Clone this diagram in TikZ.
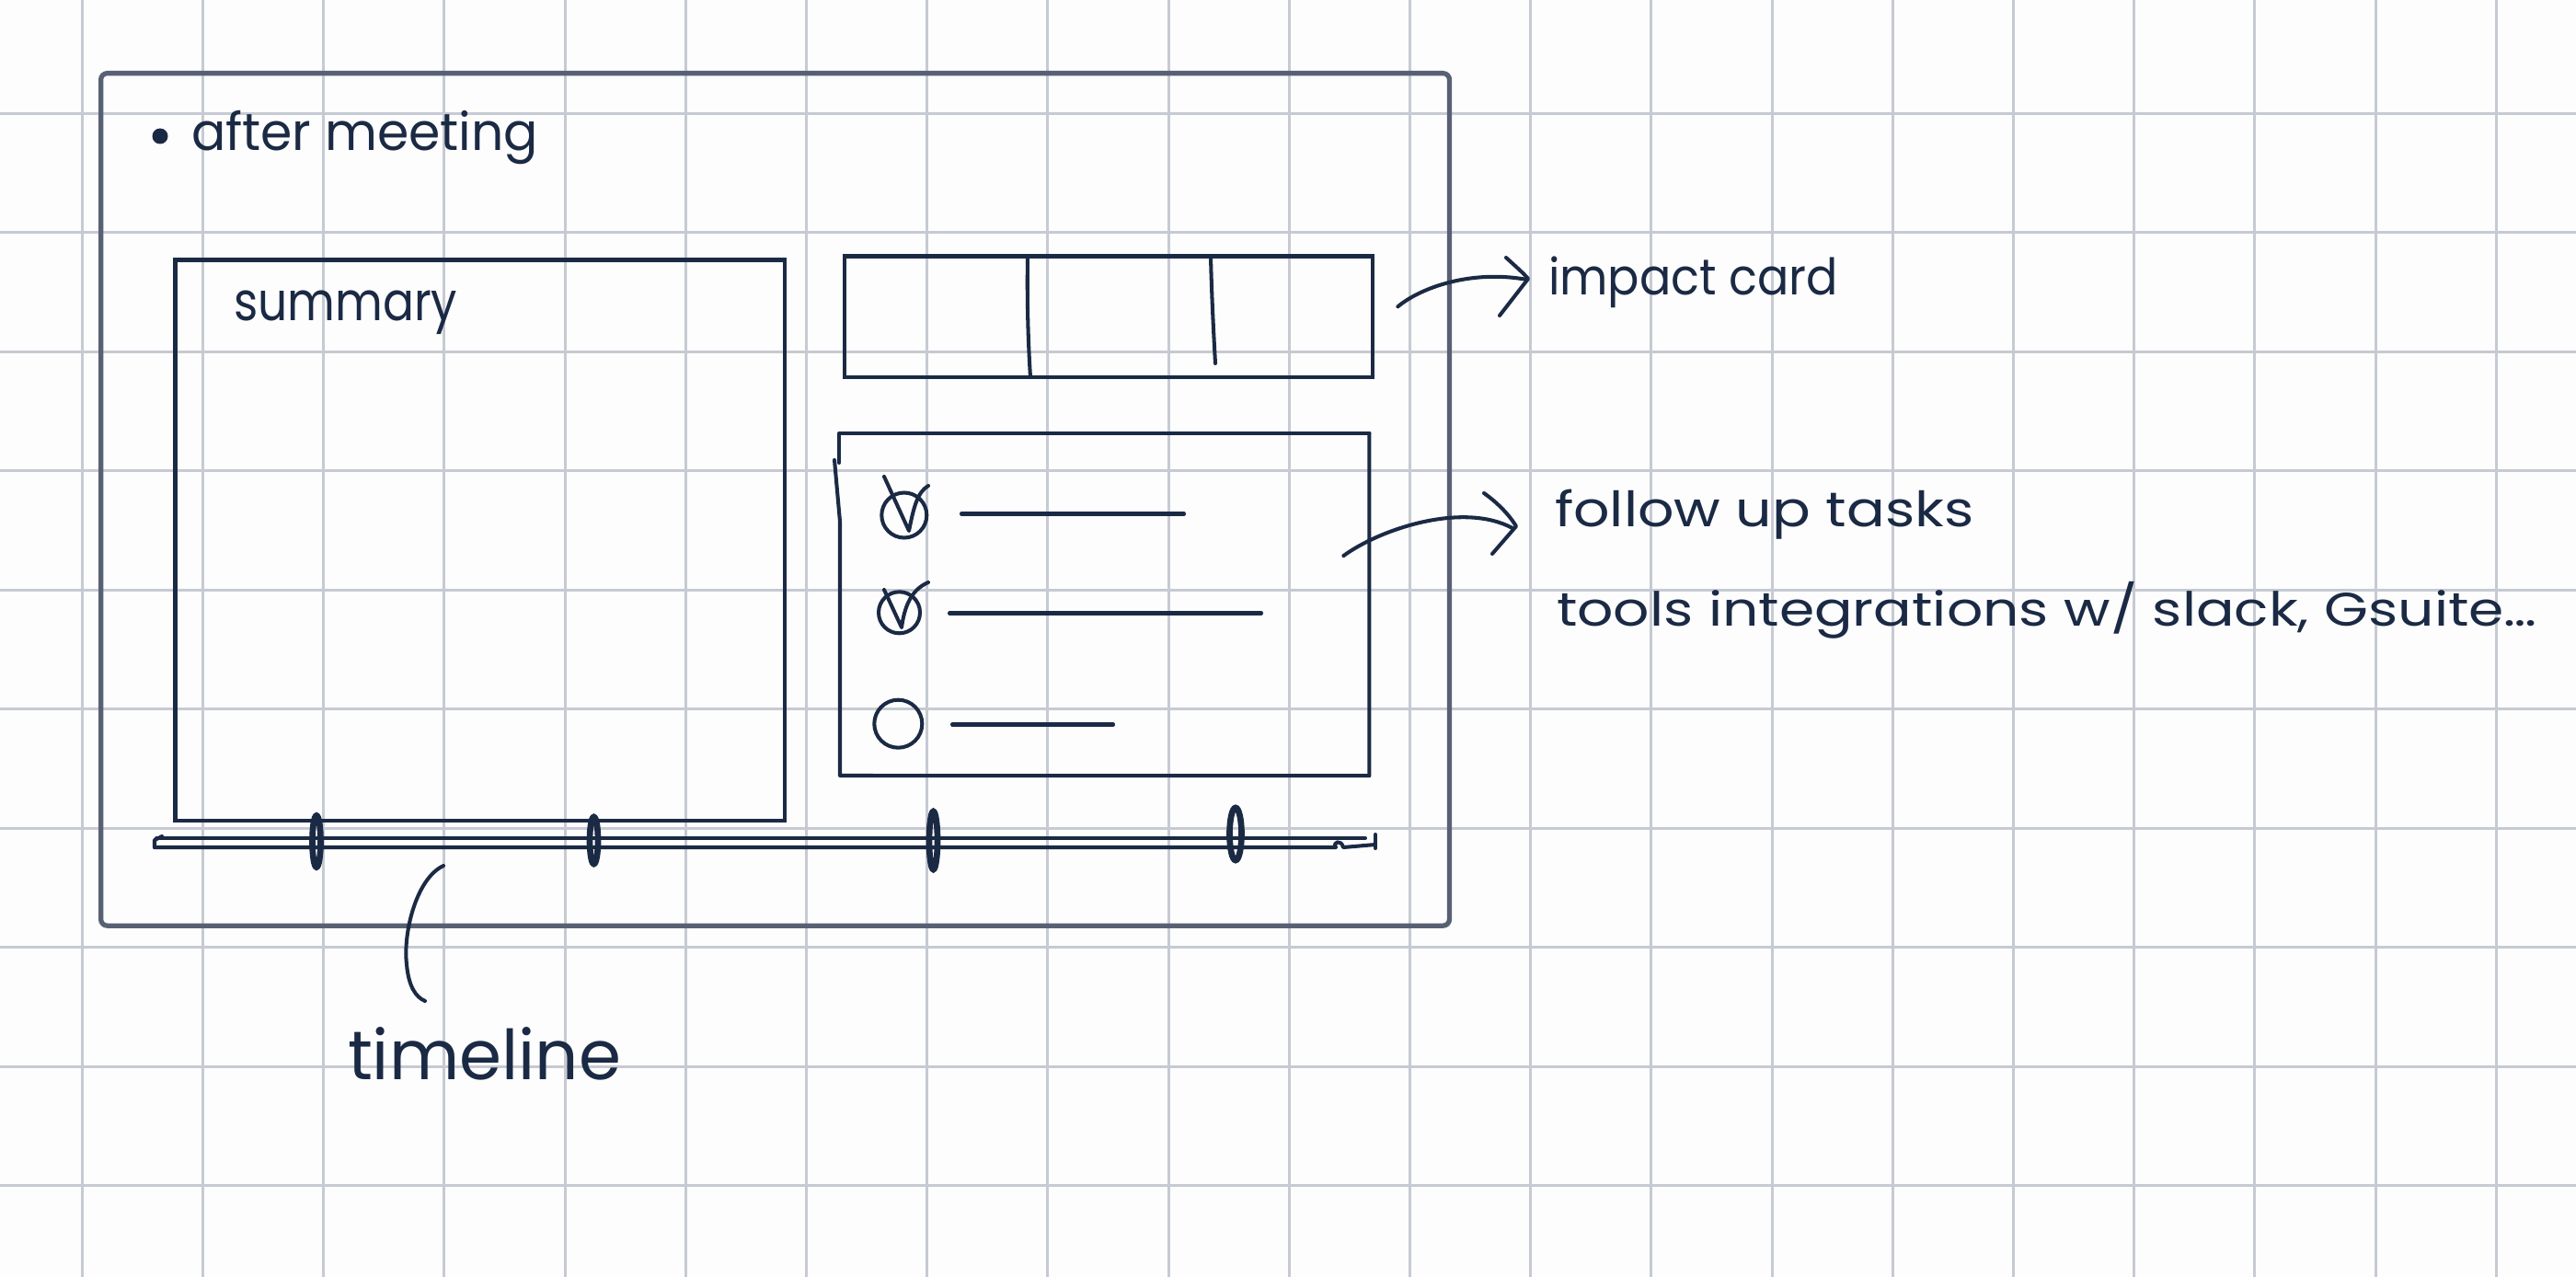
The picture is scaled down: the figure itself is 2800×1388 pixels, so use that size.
\documentclass[tikz,border=0pt]{standalone}
\usepackage{fontspec}
\setmainfont{Poppins}
\usepackage{graphicx}
\definecolor{ink}{RGB}{27,42,68}
\definecolor{gridc}{RGB}{198,202,210}
\definecolor{framec}{RGB}{88,97,116}
\definecolor{paper}{RGB}{253,253,253}
\newcommand{\hwtext}[3]{\resizebox{#1}{#2}{\smash{#3}\vphantom{x}}}
\begin{document}
\begin{tikzpicture}[x=0.01cm,y=-0.01cm,
  inkline/.style={draw=ink,line width=1.15pt,line cap=round,line join=round},
  gridline/.style={draw=gridc,line width=0.85pt},
  boxnode/.style={draw=ink,line width=1.15pt,inner sep=0pt,outer sep=0pt,anchor=north west},
  hw/.style={text=ink,inner sep=0pt,outer sep=0pt,anchor=base west},
  tick/.style={draw=ink,line width=1.9pt}]
\useasboundingbox (0,0) rectangle (2800,1388);
\fill[paper] (0,0) rectangle (2800,1388);
% grid
\foreach \k in {0,...,20} \draw[gridline] ({89.3+131.2*\k},0) -- ({89.3+131.2*\k},1388);
\foreach \k in {0,...,9} \draw[gridline] (0,{123.2+129.5*\k}) -- (2800,{123.2+129.5*\k});
% outer frame
\node[draw=framec,line width=1.5pt,rounded corners=2pt,inner sep=0pt,anchor=north west,
  minimum width=14.65cm,minimum height=9.26cm] (frame) at (107,77) {};
% title
\fill[ink] (174,148) circle (8.5);
\node[hw] (title) at (208,163) {\hwtext{3.77cm}{0.31cm}{after meeting}};
% summary
\node[boxnode,minimum width=6.62cm,minimum height=6.09cm] (summary) at (190.5,282.5) {};
\node[hw] (summarylbl) at (254,348) {\hwtext{2.43cm}{0.32cm}{summary}};
% impact card
\node[boxnode,minimum width=5.74cm,minimum height=1.315cm] (impact) at (918,278.5) {};
\draw[inkline] (1117,279) .. controls (1116,330) and (1118,380) .. (1120,410);
\draw[inkline] (1316,279) .. controls (1317,320) and (1319,360) .. (1321,395);
\node[hw] (impactlbl) at (1683,320) {\hwtext{3.15cm}{0.30cm}{impact card}};
\coordinate (ia0) at ([shift={(27,-11)}]impact.east);
\coordinate (ia1) at (1660,304);
\draw[inkline] (ia0) .. controls (1545,312) and (1600,293) .. (ia1);
\draw[inkline] (1637,280) .. controls (1648,290) and (1656,297) .. (1661,303) -- (1630,343);
% follow up tasks box
\node[inner sep=0pt,outer sep=0pt,anchor=north west,minimum width=5.76cm,minimum height=3.72cm] (tasks) at (912,471) {};
\draw[inkline] (tasks.north east) -- (tasks.north west) -- (912,503);
\draw[inkline] (907,500) -- (913,567) -- (913,843) -- (tasks.south east) -- (tasks.north east);
% checklist
\draw[inkline] (982.8,560) circle (24.5);
\draw[inkline] (961,518) -- (988,577) .. controls (993,552) and (997,535) .. (1009,528);
\draw[inkline] (1045,558.5) -- (1287,558.5);
\draw[inkline] (977.5,665.8) circle (22.5);
\draw[inkline] (961,641) -- (980,682) .. controls (983,660) and (990,641) .. (1009,633);
\draw[inkline] (1032,666.5) -- (1371,666.5);
\draw[inkline] (976.3,786.7) circle (26);
\draw[inkline] (1035,787.5) -- (1210,787.5);
% follow up labels
\node[hw] (followlbl) at (1690,572) {\hwtext{4.55cm}{0.29cm}{follow up tasks}};
\node[hw] (toolslbl) at (1692,680) {\hwtext{10.65cm}{0.28cm}{tools integrations w/ slack, Gsuite\ldots}};
\coordinate (fa0) at ([shift={(-28,-53)}]tasks.east);
\coordinate (fa1) at (1644,574);
\draw[inkline] (fa0) .. controls (1500,575) and (1590,545) .. (fa1);
\draw[inkline] (1613,536) .. controls (1630,548) and (1642,562) .. (1648,572) -- (1622,602);
% timeline
\coordinate (tl0) at (170,911);
\coordinate (tl1) at (1484,911);
\draw[inkline] (tl0) -- (tl1);
\draw[inkline] (168,921) -- (1452,921) .. controls (1448,915) and (1458,912) .. (1460,921) -- (1495,918);
\draw[inkline] (176,909) -- (168,913) -- (168,921);
\draw[inkline] (1495,907) -- (1495,922);
\draw[tick] (344,914.5) ellipse (4.5 and 28);
\draw[tick] (645.5,913.5) ellipse (4.5 and 25.5);
\draw[tick] (1014.5,913.5) ellipse (4.5 and 31.5);
\draw[tick] (1343,906.5) ellipse (6.5 and 28.5);
% timeline label
\node[hw] (timelbl) at (378,1173) {\hwtext{2.97cm}{0.41cm}{timeline}};
\coordinate (tc0) at (482,941);
\coordinate (tc1) at (462,1088);
\draw[inkline] (tc0) .. controls (452,955) and (438,1015) .. (442,1048) .. controls (444,1072) and (452,1084) .. (tc1);
\end{tikzpicture}
\end{document}
